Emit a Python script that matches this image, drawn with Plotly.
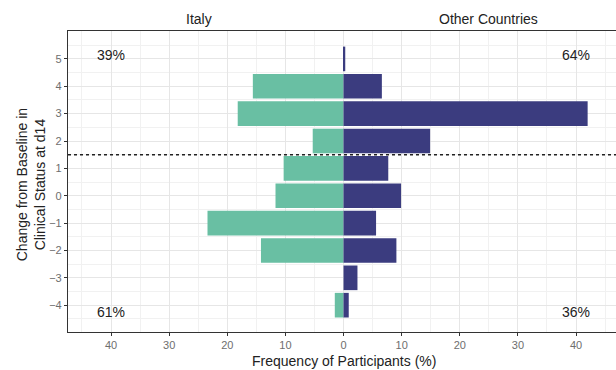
import plotly.graph_objects as go

change = [5, 4, 3, 2, 1, 0, -1, -2, -3, -4]
italy = [0.0, 15.6, 18.2, 5.3, 10.3, 11.7, 23.4, 14.2, 0.0, 1.5]
other = [0.3, 6.6, 42.0, 14.9, 7.7, 9.9, 5.6, 9.1, 2.4, 0.9]
xticks = [-40, -30, -20, -10, 0, 10, 20, 30, 40]
xticklabels = ["40", "30", "20", "10", "0", "10", "20", "30", "40"]
panel_labels = ["Italy", "Other Countries"]
pct_labels = [("39%", -40, 5.15), ("64%", 40, 5.15), ("61%", -40, -4.25), ("36%", 40, -4.25)]

TEAL = "#69BFA3"
NAVY = "#3B3C7F"
FONT = "Liberation Sans, Arial, sans-serif"

fig = go.Figure()
fig.add_trace(go.Bar(y=change, x=[-v for v in italy], orientation="h", width=0.9,
                     marker=dict(color=TEAL, line=dict(width=0)), name="Italy"))
fig.add_trace(go.Bar(y=change, x=other, orientation="h", width=0.9,
                     marker=dict(color=NAVY, line=dict(width=0)), name="Other Countries"))

fig.add_shape(type="line", xref="paper", x0=0, x1=1, yref="y", y0=1.5, y1=1.5,
              line=dict(color="#222222", width=1.4, dash="dot"), layer="above")

for txt, xv, yv in pct_labels:
    fig.add_annotation(x=xv, y=yv, text=txt, showarrow=False, xref="x", yref="y",
                       font=dict(size=14, color="#222222", family=FONT))

for txt, xv in zip(panel_labels, [-24.9, 24.9]):
    fig.add_annotation(x=xv, y=1.04, xref="x", yref="paper", text=txt, showarrow=False,
                       font=dict(size=14, color="#222222", family=FONT), yanchor="middle")

fig.add_annotation(x=0, y=-0.097, xref="x", yref="paper", text="Frequency of Participants (%)",
                   showarrow=False, font=dict(size=14, color="#222222", family=FONT), yanchor="middle")
fig.add_annotation(x=-0.068, y=0.49, xref="paper", yref="paper",
                   text="Change from Baseline in<br>Clinical Status at d14", textangle=-90,
                   showarrow=False, font=dict(size=14, color="#222222", family=FONT),
                   xanchor="center", yanchor="middle")

fig.update_layout(
    width=616, height=370, barmode="relative", showlegend=False,
    margin=dict(l=68, r=0, t=31, b=38),
    plot_bgcolor="white", paper_bgcolor="white",
    font=dict(family=FONT),
    xaxis=dict(range=[-47.4, 46.88], tickmode="array", tickvals=xticks, ticktext=xticklabels,
               showgrid=True, gridcolor="#E6E6E6", gridwidth=1, zeroline=False,
               showline=True, linecolor="#333333", linewidth=1.2, mirror=True,
               ticks="outside", ticklen=3, tickcolor="#333333",
               tickfont=dict(size=11, color="#6E6E6E"),
               minor=dict(tickvals=[-45, -35, -25, -15, -5, 5, 15, 25, 35, 45],
                          showgrid=True, gridcolor="#F1F1F1", gridwidth=0.6)),
    yaxis=dict(range=[-4.98, 6.02], tickmode="array", tickvals=change,
               showgrid=True, gridcolor="#E6E6E6", gridwidth=1, zeroline=False,
               showline=True, linecolor="#333333", linewidth=1.2,
               ticks="outside", ticklen=3, tickcolor="#333333",
               tickfont=dict(size=11, color="#6E6E6E"),
               minor=dict(tickvals=[-4.5, -3.5, -2.5, -1.5, -0.5, 0.5, 1.5, 2.5, 3.5, 4.5, 5.5],
                          showgrid=True, gridcolor="#F1F1F1", gridwidth=0.6)),
)

fig.write_html("out.html", config={"displayModeBar": False},
               post_script="document.body.style.margin='0';document.body.style.overflow='hidden';")
